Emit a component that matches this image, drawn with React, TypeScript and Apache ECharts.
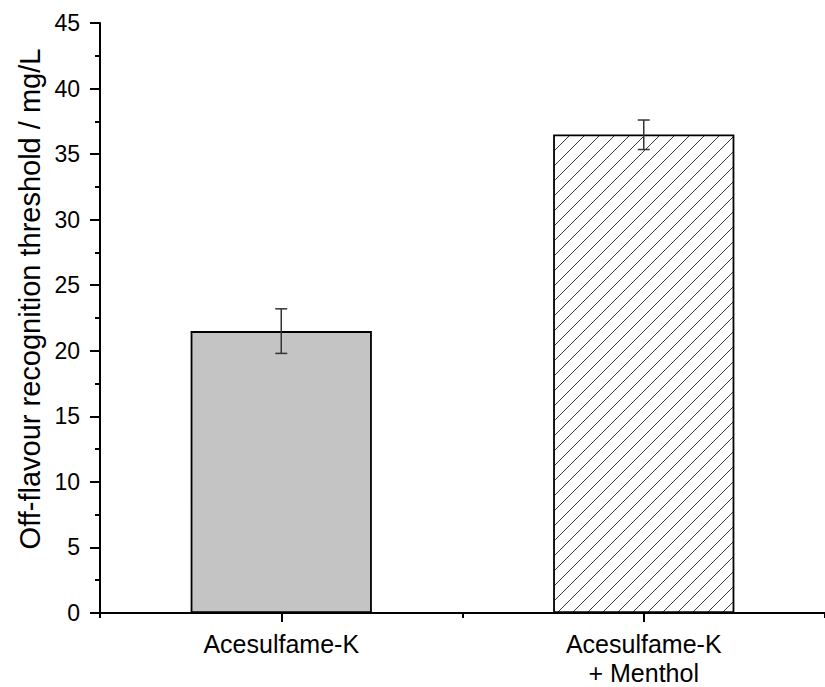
import React, { useEffect, useRef } from "react";
import * as echarts from "echarts";

const categories = ["Acesulfame-K", "Acesulfame-K\n+ Menthol"];
const values = [21.5, 36.5];
const errLow = [19.8, 35.35];
const errHigh = [23.2, 37.6];
const yTicks = { min: 0, max: 45, interval: 5 };
const yTitle = "Off-flavour recognition threshold / mg/L";

function hatchImage(): string {
  const s = 15;
  const c = document.createElement("canvas");
  c.width = s;
  c.height = s;
  const ctx = c.getContext("2d")!;
  ctx.fillStyle = "#ffffff";
  ctx.fillRect(0, 0, s, s);
  ctx.strokeStyle = "#3a3a3a";
  ctx.lineWidth = 1;
  const seg = (x0: number, y0: number, x1: number, y1: number) => {
    ctx.beginPath();
    ctx.moveTo(x0, y0);
    ctx.lineTo(x1, y1);
    ctx.stroke();
  };
  seg(-2, s + 2, s + 2, -2);
  seg(-2, 2, 2, -2);
  seg(s - 2, s + 2, s + 2, s - 2);
  return c.toDataURL();
}

export default function App() {
  const ref = useRef<HTMLDivElement>(null);
  useEffect(() => {
    if (!ref.current) return;
    const chart = echarts.init(ref.current, undefined, { renderer: "svg" });
    const font = "'Liberation Sans', Arial, sans-serif";
    const hatch = hatchImage();
    const axisStyle = { color: "#000", width: 2 };
    chart.setOption({
      animation: false,
      backgroundColor: "#ffffff",
      grid: { left: 100, top: 23, right: -9, bottom: 74, containLabel: false },
      xAxis: [
        {
          type: "category",
          data: categories,
          axisLine: { show: true, lineStyle: axisStyle },
          axisTick: { show: true, alignWithLabel: true, length: 9, lineStyle: axisStyle },
          axisLabel: {
            interval: 0,
            color: "#000",
            fontFamily: font,
            fontSize: 25,
            lineHeight: 29,
            margin: 16,
          },
          splitLine: { show: false },
        },
        {
          type: "category",
          data: categories,
          position: "bottom",
          axisLine: { show: false },
          axisTick: { show: true, length: 5, interval: 0, lineStyle: axisStyle },
          axisLabel: { show: false },
          splitLine: { show: false },
        },
      ],
      yAxis: {
        type: "value",
        min: yTicks.min,
        max: yTicks.max,
        interval: yTicks.interval,
        axisLine: { show: true, lineStyle: axisStyle },
        axisTick: { show: true, length: 10, lineStyle: axisStyle },
        minorTick: { show: true, splitNumber: 2, length: 5, lineStyle: axisStyle },
        axisLabel: { color: "#000", fontFamily: font, fontSize: 23, margin: 20 },
        splitLine: { show: false },
      },
      graphic: [
        {
          type: "text",
          x: 30,
          y: 299,
          rotation: Math.PI / 2,
          style: {
            text: yTitle,
            font: `29px ${font}`,
            fill: "#000",
            align: "center",
            verticalAlign: "middle",
          },
        },
      ],
      series: [
        {
          type: "bar",
          xAxisIndex: 0,
          barWidth: "50%",
          data: [
            { value: values[0], itemStyle: { color: "#c4c4c4" } },
            { value: values[1], itemStyle: { color: { image: hatch, repeat: "repeat" } } },
          ],
          itemStyle: { borderColor: "#000", borderWidth: 1.8 },
        },
        {
          type: "custom",
          xAxisIndex: 0,
          data: values.map((v, i) => [i, errLow[i], errHigh[i]]),
          renderItem: (params: any, api: any) => {
            const x = api.value(0);
            const lo = api.coord([x, api.value(1)]);
            const hi = api.coord([x, api.value(2)]);
            const hw = 6;
            const st = { stroke: "#333", lineWidth: 1.5 };
            return {
              type: "group",
              children: [
                { type: "line", shape: { x1: lo[0], y1: lo[1], x2: hi[0], y2: hi[1] }, style: st },
                { type: "line", shape: { x1: lo[0] - hw, y1: lo[1], x2: lo[0] + hw, y2: lo[1] }, style: st },
                { type: "line", shape: { x1: hi[0] - hw, y1: hi[1], x2: hi[0] + hw, y2: hi[1] }, style: st },
              ],
            };
          },
          z: 5,
        },
      ],
    });
    return () => chart.dispose();
  }, []);
  return (
    <div
      ref={ref}
      style={{ position: "absolute", left: 0, top: 0, width: 825, height: 687 }}
    />
  );
}
